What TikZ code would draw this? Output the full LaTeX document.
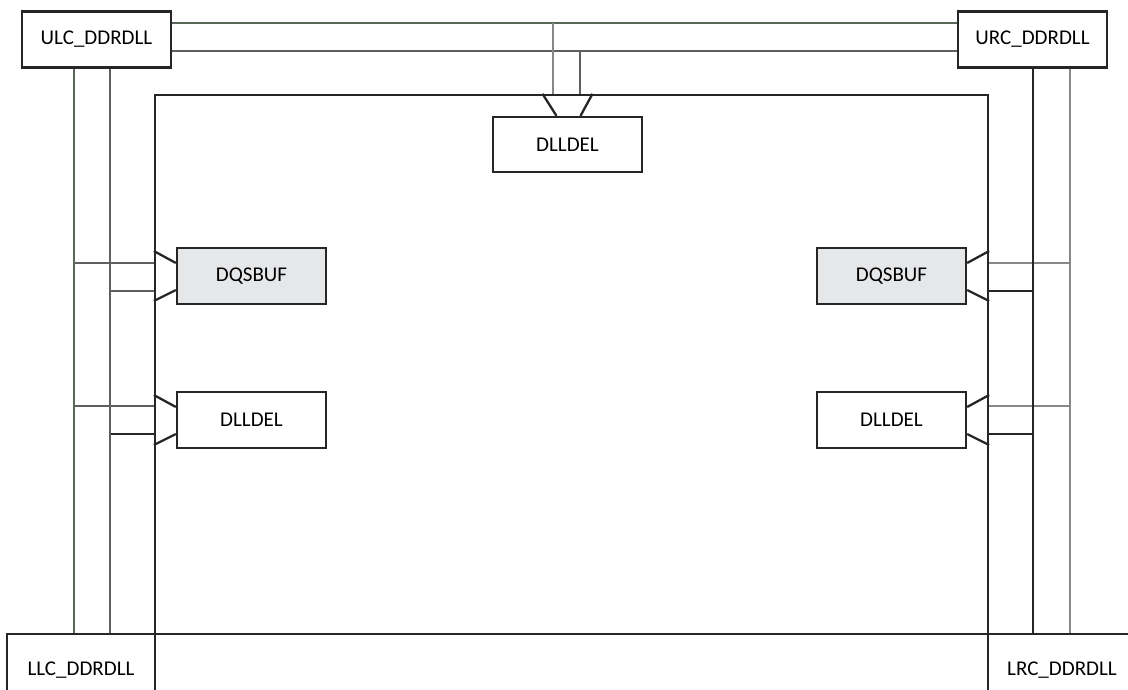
\documentclass[tikz,border=0pt]{standalone}
\usepackage{fontspec}
\setmainfont{Carlito}
\usepackage{tikz}
\usetikzlibrary{positioning, calc}
\definecolor{edge}{RGB}{38, 38, 38}
\definecolor{railgreen}{RGB}{90, 104, 90}
\definecolor{railgray}{RGB}{95, 95, 95}
\definecolor{raillight}{RGB}{135, 135, 135}
\definecolor{buffill}{RGB}{230, 231, 233}

\begin{document}
\begin{tikzpicture}[
    x=1pt, y=-1pt,
    block/.style={rectangle, draw=edge, fill=white, line width=2.3pt, minimum width=149pt, minimum height=56pt, inner sep=0pt, font=\fontsize{21}{25}\selectfont},
    bufblock/.style={block, fill=buffill},
    core/.style={rectangle, draw=edge, line width=2.3pt, minimum width=833pt, minimum height=539pt, inner sep=0pt},
    pad/.style={draw=edge, line width=2.3pt},
    wire/.style={line width=2pt}
]
    \useasboundingbox (0,0) rectangle (1128,690);
    \clip (0,0) rectangle (1128,690);

    % Rails and buses
    \coordinate (railA) at (74,0);
    \coordinate (railB) at (110,0);
    \coordinate (railC) at (1033,0);
    \coordinate (railD) at (1070,0);
    \coordinate (busA) at (0,23);
    \coordinate (busB) at (0,51);
    \coordinate (dropA) at (553,0);
    \coordinate (dropB) at (580,0);

    % Core
    \node (core) [core] at (571.5,364.5) {};

    % Corner DLLs
    \node (ulc) [block] at (96.5,39.5) {ULC\_DDRDLL};
    \node (urc) [block] at (1032.5,39.5) {URC\_DDRDLL};
    \node (llc) [block, minimum width=148pt, minimum height=72pt] at (81,670) {LLC\_DDRDLL};
    \node (lrc) [block, minimum width=148pt, minimum height=72pt] at (1062,670) {LRC\_DDRDLL};

    % Blocks inside the core
    \node (topdel) [block, minimum height=55pt] at (567.5,144.5) {DLLDEL};
    \node (lbuf) [bufblock] at (251.5,276) {DQSBUF};
    \node (ldel) [block] at (251.5,420) {DLLDEL};
    \node (rbuf) [bufblock] at (891.5,276) {DQSBUF};
    \node (rdel) [block] at (891.5,420) {DLLDEL};

    % Pads
    \draw [pad] ($(topdel.north)+(-11,0)$) -- ++(-14,-22);
    \draw [pad] ($(topdel.north)+(13,0)$) -- ++(12,-22);
    \foreach \b in {lbuf, ldel} {
        \draw [pad] ($(\b.west)+(0,-13)$) -- ++(-22,-12);
        \draw [pad] ($(\b.west)+(0,14)$) -- ++(-22,11);
    }
    \foreach \b in {rbuf, rdel} {
        \draw [pad] ($(\b.east)+(0,-13)$) -- ++(22,-12);
        \draw [pad] ($(\b.east)+(0,14)$) -- ++(22,11);
    }

    % Top buses
    \draw [wire, railgreen] (busA -| ulc.east) -- (busA -| urc.west);
    \draw [wire, railgray] (busB -| ulc.east) -- (busB -| urc.west);
    \draw [wire, raillight] (dropA |- busA) -- (dropA |- core.north);
    \draw [wire, railgray] (dropB |- busB) -- (dropB |- core.north);

    % Left taps
    \draw [wire, railgray] (railA |- 0,263) -- (core.west |- 0,263);
    \draw [wire, railgray] (railB |- 0,291) -- (core.west |- 0,291);
    \draw [wire, railgray] (railA |- 0,406) -- (core.west |- 0,406);
    \draw [wire, edge] (railB |- 0,434) -- (core.west |- 0,434);

    % Right taps
    \draw [wire, raillight] (railD |- 0,263) -- (core.east |- 0,263);
    \draw [wire, edge] (railC |- 0,291) -- (core.east |- 0,291);
    \draw [wire, raillight] (railD |- 0,406) -- (core.east |- 0,406);
    \draw [wire, edge] (railC |- 0,434) -- (core.east |- 0,434);

    % Vertical rails
    \draw [wire, railgreen] (railA |- ulc.south) -- (railA |- llc.north);
    \draw [wire, railgray] (railB |- ulc.south) -- (railB |- llc.north);
    \draw [wire, edge] (railC |- urc.south) -- (railC |- lrc.north);
    \draw [wire, raillight] (railD |- urc.south) -- (railD |- lrc.north);
\end{tikzpicture}
\end{document}
